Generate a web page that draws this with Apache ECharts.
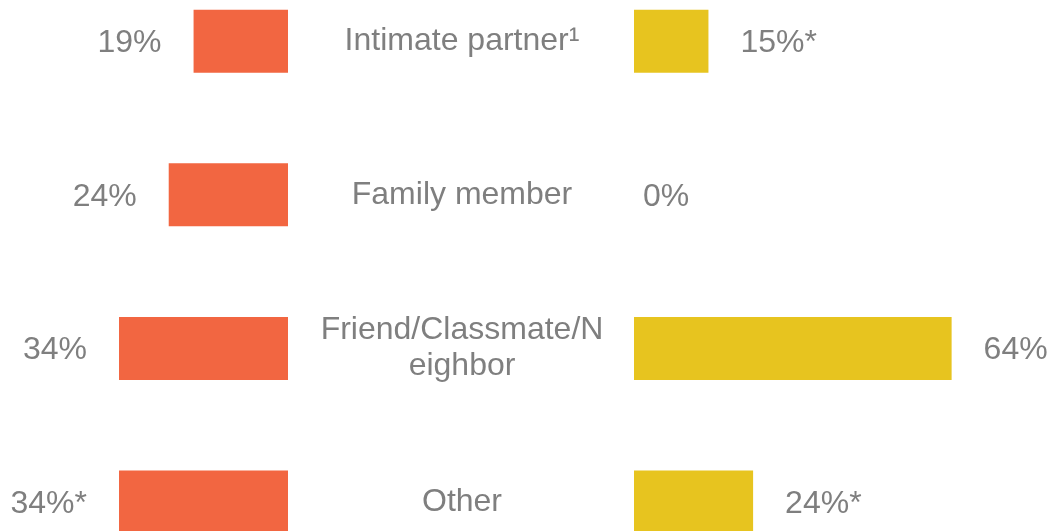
<!DOCTYPE html>
<html>
<head>
<meta charset="utf-8">
<script src="https://cdn.jsdelivr.net/npm/echarts@6/dist/echarts.min.js"></script>
<style>
html,body{margin:0;padding:0;background:#fff;}
#chart{width:1048px;height:531px;}
</style>
</head>
<body>
<div id="chart"></div>
<script>
var categories = ['Intimate partner\u00B9', 'Family member', 'Friend/Classmate/N\neighbor', 'Other'];
var leftValues = [19, 24, 34, 34];
var leftNotes = ['', '', '', '*'];
var rightValues = [15, 0, 64, 24];
var rightNotes = ['*', '', '', '*'];

var FONT = '"Liberation Sans", Arial, sans-serif';
var GRAY = '#7f7f7f';
var ORANGE = '#F26641';
var YELLOW = '#E7C41F';

function buildData(values, notes) {
  return values.map(function (v, i) {
    var item = { value: v, note: notes[i] };
    if (v === 0) {
      item.label = { distance: 9 };
    }
    return item;
  });
}

var chart = echarts.init(document.getElementById('chart'), null, { renderer: 'canvas' });

var labelStyle = {
  show: true,
  fontFamily: FONT,
  fontSize: 32,
  color: GRAY,
  distance: 32,
  offset: [0, 2],
  formatter: function (p) { return p.value + '%' + (p.data.note || ''); }
};

chart.setOption({
  animation: false,
  backgroundColor: '#ffffff',
  grid: [
    { left: 38, width: 250, top: -35.6, height: 614.4, outerBoundsMode: 'none', containLabel: false },
    { left: 634, width: 400, top: -35.6, height: 614.4, outerBoundsMode: 'none', containLabel: false }
  ],
  xAxis: [
    { type: 'value', gridIndex: 0, min: 0, max: 50.3, inverse: true, show: false },
    { type: 'value', gridIndex: 1, min: 0, max: 80.6, show: false }
  ],
  yAxis: [
    { type: 'category', gridIndex: 0, data: categories, inverse: true, show: false },
    {
      type: 'category', gridIndex: 1, data: categories, inverse: true,
      axisLine: { show: false }, axisTick: { show: false }, splitLine: { show: false },
      axisLabel: {
        show: true, align: 'center', margin: 172,
        fontFamily: FONT, fontSize: 32, color: GRAY, lineHeight: 36,
        padding: [5, 0, 0, 0]
      }
    }
  ],
  series: [
    {
      type: 'bar', xAxisIndex: 0, yAxisIndex: 0,
      data: buildData(leftValues, leftNotes),
      barWidth: 63,
      itemStyle: { color: ORANGE },
      label: Object.assign({}, labelStyle, { position: 'left' })
    },
    {
      type: 'bar', xAxisIndex: 1, yAxisIndex: 1,
      data: buildData(rightValues, rightNotes),
      barWidth: 63,
      itemStyle: { color: YELLOW },
      label: Object.assign({}, labelStyle, { position: 'right' })
    }
  ]
});
</script>
</body>
</html>
